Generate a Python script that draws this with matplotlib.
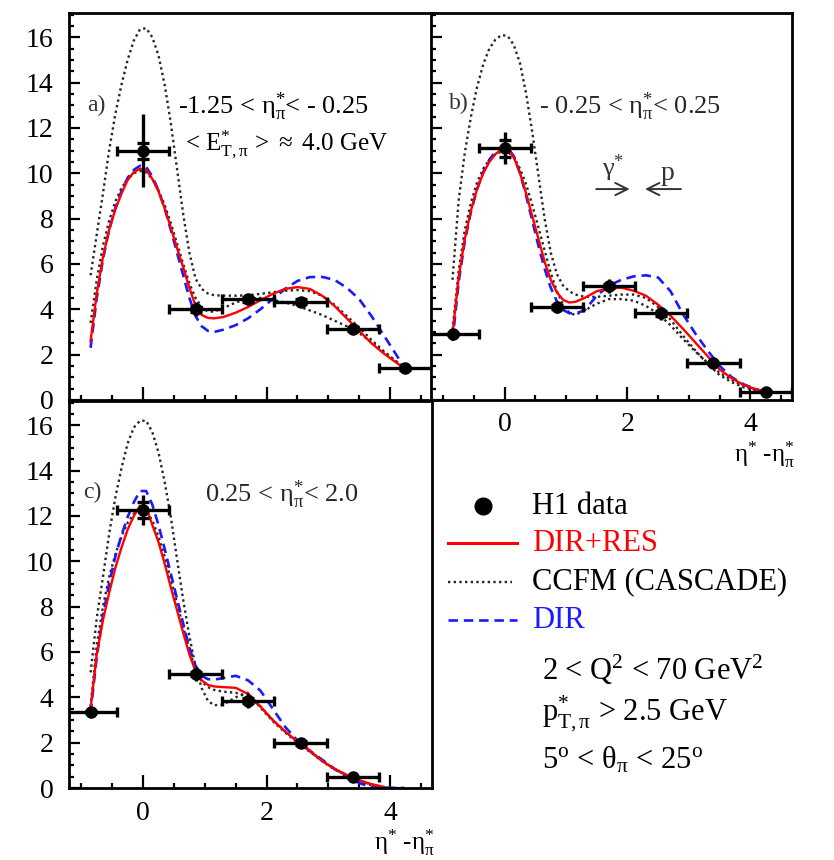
import numpy as np
import matplotlib.pyplot as plt
from matplotlib.lines import Line2D
from matplotlib.ticker import MultipleLocator

plt.rcParams['font.family'] = ['Liberation Serif', 'DejaVu Serif']
plt.rcParams['mathtext.fontset'] = 'stix'
plt.rcParams['mathtext.default'] = 'regular'

# abscissa of the model curves (eta* - eta*_pi)
eta_grid = [-0.85, -0.75, -0.65, -0.55, -0.45, -0.35, -0.25, -0.15, -0.05,
            0.05, 0.15, 0.25, 0.35, 0.45, 0.55, 0.65, 0.75, 0.85, 0.95,
            1.05, 1.15, 1.3, 1.5, 1.7, 1.9, 2.1, 2.3, 2.5, 2.7, 2.9,
            3.1, 3.3, 3.5, 3.7, 3.9, 4.1, 4.23]
bin_half = 0.425

# panel a: -1.25 < eta*_pi < -0.25
data_x_a = [0.0, 0.85, 1.7, 2.55, 3.4, 4.25]
data_y_a = [11.0, 4.0, 4.44, 4.34, 3.12, 1.4]
err_tot_a = [1.6, 0.3, 0.25, 0.2, 0.15, 0.12]
err_stat_a = [0.35, 0.12, 0.1, 0.1, 0.08, 0.06]
dir_res_a = [2.6, 4.7, 6.3, 7.5, 8.4, 9.1, 9.7, 10.05, 10.2,
             10.15, 9.75, 9.2, 8.45, 7.6, 6.7, 5.85, 4.95, 4.15, 3.75,
             3.62, 3.6, 3.66, 3.85, 4.1, 4.4, 4.68, 4.9, 4.98, 4.9, 4.6,
             4.15, 3.6, 3.05, 2.5, 2.05, 1.65, 1.4]
dir_a = [2.3, 4.5, 6.2, 7.5, 8.45, 9.2, 9.8, 10.15, 10.33,
         10.28, 9.85, 9.25, 8.45, 7.5, 6.5, 5.5, 4.5, 3.7, 3.25,
         3.05, 3.0, 3.1, 3.3, 3.6, 4.0, 4.45, 4.9, 5.25, 5.42, 5.43,
         5.3, 4.95, 4.45, 3.7, 2.85, 2.0, 1.45]
ccfm_hi_a = [5.5, 7.3, 9.1, 11.0, 12.6, 13.9, 15.0, 15.85, 16.35,
             16.4, 16.0, 15.2, 13.9, 12.2, 10.2, 8.2, 6.5, 5.35, 4.9,
             4.7, 4.62, 4.6, 4.6, 4.62, 4.68, 4.75, 4.82, 4.85, 4.8, 4.6,
             4.2, 3.7, 3.2, 2.65, 2.15, 1.7, 1.45]
ccfm_lo_a = [3.4, 5.3, 6.8, 7.9, 8.75, 9.35, 9.75, 10.0, 10.1,
             10.05, 9.75, 9.25, 8.6, 7.8, 6.9, 6.0, 5.15, 4.5, 4.1,
             3.9, 3.9, 4.05, 4.3, 4.48, 4.5, 4.42, 4.3, 4.15, 3.95, 3.75,
             3.5, 3.25, 2.95, 2.55, 2.1, 1.7, 1.4]

# panel b: -0.25 < eta*_pi < 0.25
data_x_b = [-0.85, 0.0, 0.85, 1.7, 2.55, 3.4, 4.25]
data_y_b = [2.9, 11.1, 4.1, 5.03, 3.82, 1.62, 0.37]
err_tot_b = [0.12, 0.7, 0.25, 0.3, 0.3, 0.15, 0.08]
err_stat_b = [0.05, 0.37, 0.1, 0.1, 0.1, 0.05, 0.03]
dir_res_b = [2.9, 5.4, 7.1, 8.35, 9.3, 10.0, 10.5, 10.85, 11.05,
             11.05, 10.7, 10.0, 9.1, 8.1, 7.1, 6.1, 5.3, 4.75, 4.42,
             4.3, 4.33, 4.5, 4.8, 4.93, 4.95, 4.82, 4.6, 4.2, 3.72, 3.15,
             2.55, 1.95, 1.35, 0.95, 0.65, 0.47, 0.37]
dir_b = [2.6, 5.2, 7.0, 8.3, 9.3, 10.05, 10.6, 10.95, 11.15,
         11.12, 10.75, 10.0, 9.0, 7.9, 6.8, 5.8, 4.95, 4.35, 3.98,
         3.83, 3.82, 3.95, 4.6, 5.05, 5.3, 5.45, 5.5, 5.4, 4.8, 3.8,
         2.95, 2.2, 1.5, 1.0, 0.68, 0.47, 0.37]
ccfm_hi_b = [5.3, 8.8, 10.9, 12.5, 13.8, 14.8, 15.5, 15.9, 16.1,
             16.05, 15.65, 14.85, 13.5, 11.8, 9.9, 8.0, 6.5, 5.55, 5.05,
             4.8, 4.65, 4.55, 4.55, 4.6, 4.65, 4.65, 4.5, 4.1, 3.55, 2.85,
             2.2, 1.6, 1.1, 0.78, 0.55, 0.42, 0.34]
ccfm_lo_b = [3.1, 5.7, 7.5, 8.7, 9.6, 10.2, 10.6, 10.85, 10.95,
             10.95, 10.7, 10.2, 9.5, 8.6, 7.6, 6.6, 5.6, 4.8, 4.2,
             3.85, 3.75, 3.95, 4.25, 4.45, 4.45, 4.38, 4.15, 3.8, 3.3, 2.7,
             2.15, 1.65, 1.2, 0.88, 0.62, 0.45, 0.37]

# panel c: 0.25 < eta*_pi < 2.0
data_x_c = [-0.85, 0.0, 0.85, 1.7, 2.55, 3.4]
data_y_c = [3.35, 12.26, 5.02, 3.86, 1.98, 0.47]
err_tot_c = [0.12, 0.65, 0.3, 0.35, 0.2, 0.08]
err_stat_c = [0.05, 0.35, 0.1, 0.12, 0.08, 0.03]
dir_res_c = [3.5, 5.9, 7.4, 8.6, 9.7, 10.6, 11.4, 12.0, 12.45,
             12.4, 11.6, 10.85, 9.9, 8.85, 7.85, 6.85, 5.9, 5.15, 4.75,
             4.55, 4.48, 4.45, 4.42, 4.15, 3.6, 3.0, 2.5, 2.05, 1.65, 1.2,
             0.85, 0.58, 0.35, 0.17, 0.05, np.nan, np.nan]
dir_c = [3.3, 5.8, 7.6, 9.0, 10.2, 11.15, 11.95, 12.6, 13.1,
         13.1, 12.5, 11.6, 10.55, 9.45, 8.35, 7.25, 6.2, 5.4, 4.95,
         4.8, 4.78, 4.85, 4.95, 4.75, 4.3, 3.5, 2.7, 2.1, 1.65, 1.25,
         0.85, 0.5, 0.22, 0.03, 0.0, 0.0, 0.0]
ccfm_hi_c = [5.1, 7.5, 9.3, 11.2, 12.8, 14.1, 15.2, 15.9, 16.2,
             16.2, 15.7, 14.8, 13.5, 11.95, 10.1, 8.3, 6.7, 5.35, 4.4,
             3.85, 3.65, 3.68, 4.0, 4.2, 3.55, 2.95, 2.45, 2.0, 1.6, 1.18,
             0.82, 0.55, 0.32, 0.15, 0.04, 0.0, 0.0]
ccfm_lo_c = [3.6, 6.3, 8.0, 9.3, 10.3, 11.1, 11.7, 12.1, 12.3,
             12.25, 11.8, 11.1, 10.2, 9.2, 8.15, 7.1, 6.1, 5.2, 4.7,
             4.45, 4.33, 4.25, 4.2, 4.05, 3.6, 3.0, 2.5, 2.05, 1.62, 1.2,
             0.83, 0.55, 0.3, 0.12, 0.03, 0.0, 0.0]

RED = '#ff0000'
BLUE = '#1a1aff'
DOT_STYLE = dict(color='0.15', lw=1.7, ls=(0, (1, 1.4)))
DASH_STYLE = dict(color=BLUE, lw=1.9, ls=(0, (3.6, 2.2)))
TICK_FS = 20
CAPTION_FS = 19
LEGEND_FS = 22


def draw_panel(ax, dx, dy, etot, estat, dir_res, dir_only, ccfm_hi, ccfm_lo):
    ax.plot(eta_grid, ccfm_hi, **DOT_STYLE)
    ax.plot(eta_grid, ccfm_lo, **DOT_STYLE)
    ax.plot(eta_grid, dir_only, **DASH_STYLE)
    ax.plot(eta_grid, dir_res, color=RED, lw=1.7)
    ax.errorbar(dx, dy, xerr=bin_half, fmt='none', ecolor='k',
                elinewidth=2.4, capsize=3.8, capthick=2.4)
    ax.errorbar(dx, dy, yerr=etot, fmt='none', ecolor='k',
                elinewidth=2.4, capsize=0)
    dy_arr, es = np.array(dy), np.array(estat)
    ax.plot(dx, dy_arr + es, '_', color='k', ms=8, mew=2.4)
    ax.plot(dx, dy_arr - es, '_', color='k', ms=8, mew=2.4)
    ax.plot(dx, dy, 'o', color='k', ms=8)


def style_axes(ax, left_labels, bottom_labels):
    ax.set_xlim(-1.2, 4.68)
    ax.set_ylim(0, 17.07)
    ax.xaxis.set_major_locator(MultipleLocator(2))
    ax.xaxis.set_minor_locator(MultipleLocator(0.5))
    ax.yaxis.set_major_locator(MultipleLocator(2))
    ax.yaxis.set_minor_locator(MultipleLocator(0.5))
    ax.tick_params(which='both', direction='in', top=False, right=False,
                   width=1.6, labelsize=TICK_FS)
    ax.tick_params(axis='x', which='major', length=9.5, pad=9)
    ax.tick_params(axis='y', which='major', length=8, pad=11)
    ax.tick_params(which='minor', length=3.6)
    ax.tick_params(labelleft=left_labels, labelbottom=bottom_labels)
    for sp in ax.spines.values():
        sp.set_linewidth(2.0)


def eta_label(ax):
    ax.annotate(r'$\eta^{*}$ -$\eta^{*}_{\pi}$', xy=(1, 0),
                xycoords='axes fraction', xytext=(2, -28.5),
                textcoords='offset points', ha='right', va='top', fontsize=18)


fig = plt.figure(figsize=(8.34, 8.6), dpi=100)
ax_a = fig.add_axes([0.0827, 0.5349, 0.4353, 0.45])
ax_b = fig.add_axes([0.5168, 0.5349, 0.4329, 0.45])
ax_c = fig.add_axes([0.0827, 0.0837, 0.4353, 0.45])

draw_panel(ax_a, data_x_a, data_y_a, err_tot_a, err_stat_a,
           dir_res_a, dir_a, ccfm_hi_a, ccfm_lo_a)
draw_panel(ax_b, data_x_b, data_y_b, err_tot_b, err_stat_b,
           dir_res_b, dir_b, ccfm_hi_b, ccfm_lo_b)
draw_panel(ax_c, data_x_c, data_y_c, err_tot_c, err_stat_c,
           dir_res_c, dir_c, ccfm_hi_c, ccfm_lo_c)

style_axes(ax_a, True, False)
style_axes(ax_b, False, True)
style_axes(ax_c, True, True)
eta_label(ax_b)
eta_label(ax_c)

# panel captions
ax_a.text(0.05, 0.76, 'a)', transform=ax_a.transAxes, fontsize=17,
          va='center', color='0.2')
ax_a.text(0.30, 0.757, r'-1.25 < $\eta^{*}_{\pi}$< - 0.25',
          transform=ax_a.transAxes, fontsize=CAPTION_FS, va='center')
ax_a.text(0.32, 0.66, r'< $E^{*}_{T,\pi}$ > $\approx$ 4.0 GeV',
          transform=ax_a.transAxes, fontsize=CAPTION_FS - 1, va='center')

ax_b.text(0.05, 0.765, 'b)', transform=ax_b.transAxes, fontsize=17,
          va='center', color='0.2')
ax_b.text(0.30, 0.757, r'- 0.25 < $\eta^{*}_{\pi}$< 0.25',
          transform=ax_b.transAxes, fontsize=CAPTION_FS, va='center',
          color='0.15')
ax_b.text(0.505, 0.60, r'$\gamma^{*}$', transform=ax_b.transAxes,
          fontsize=19, ha='center', va='center', color='0.2')
ax_b.text(0.655, 0.585, 'p', transform=ax_b.transAxes,
          fontsize=20, ha='center', va='center', color='0.2')
ax_b.annotate('', xy=(0.558, 0.545), xytext=(0.45, 0.545),
              xycoords='axes fraction',
              arrowprops=dict(arrowstyle='->', lw=1.4, color='0.2',
                              mutation_scale=22))
ax_b.annotate('', xy=(0.585, 0.545), xytext=(0.70, 0.545),
              xycoords='axes fraction',
              arrowprops=dict(arrowstyle='->', lw=1.4, color='0.2',
                              mutation_scale=22))

ax_c.text(0.04, 0.765, 'c)', transform=ax_c.transAxes, fontsize=17,
          va='center', color='0.2')
ax_c.text(0.375, 0.757, r'0.25 < $\eta^{*}_{\pi}$< 2.0',
          transform=ax_c.transAxes, fontsize=CAPTION_FS, va='center',
          color='0.15')

# legend block
fig.add_artist(Line2D([0.579], [0.4116], marker='o', color='k', ms=12,
                      transform=fig.transFigure))
fig.add_artist(Line2D([0.537, 0.620], [0.3686, 0.3686], color=RED, lw=2.2,
                      transform=fig.transFigure))
fig.add_artist(Line2D([0.537, 0.614], [0.3233, 0.3233],
                      transform=fig.transFigure, **DOT_STYLE))
fig.add_artist(Line2D([0.537, 0.620], [0.2790, 0.2790],
                      transform=fig.transFigure, **DASH_STYLE))
fig.text(0.638, 0.4116, 'H1 data', fontsize=LEGEND_FS, va='center')
fig.text(0.638, 0.3686, 'DIR+RES', fontsize=LEGEND_FS, va='center',
         color=RED)
fig.text(0.638, 0.3233, 'CCFM (CASCADE)', fontsize=LEGEND_FS, va='center')
fig.text(0.638, 0.2790, 'DIR', fontsize=LEGEND_FS, va='center', color=BLUE)
fig.text(0.650, 0.221, r'2 < Q$^{2}$ < 70 GeV$^{2}$', fontsize=LEGEND_FS,
         va='center')
fig.text(0.650, 0.171, r'$p^{*}_{T,\pi}$ > 2.5 GeV', fontsize=LEGEND_FS,
         va='center')
fig.text(0.650, 0.116, r'5$^{o}$ < $\theta_{\pi}$ < 25$^{o}$',
         fontsize=LEGEND_FS, va='center')

fig.savefig('out.png', dpi=100)
